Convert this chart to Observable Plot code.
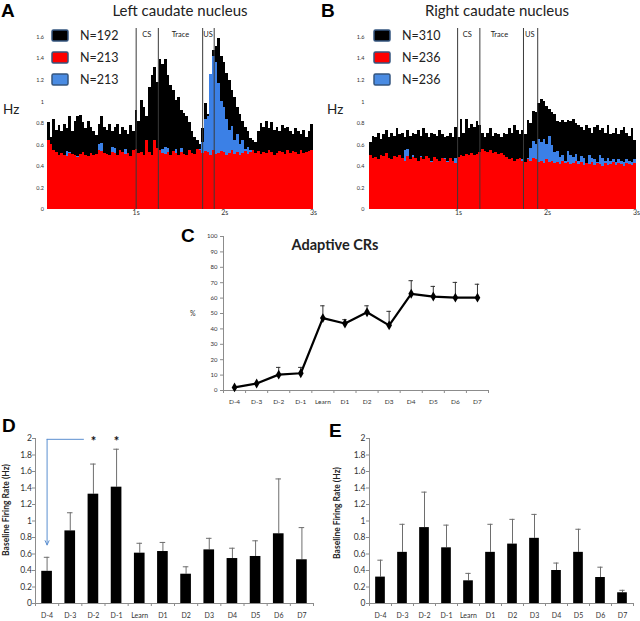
<!DOCTYPE html>
<html><head><meta charset="utf-8">
<script src="https://cdn.jsdelivr.net/npm/d3@7"></script>
<script src="https://cdn.jsdelivr.net/npm/@observablehq/plot@0.6"></script>
<style>
body{margin:0;background:#fff;}
#fig{position:relative;width:640px;height:621px;overflow:hidden;background:#fff;font-family:Lato,sans-serif;}
.pane{position:absolute;}
.pane svg{background:transparent;}
#overlay{position:absolute;left:0;top:0;pointer-events:none;}
</style></head>
<body><div id="fig"></div>
<script>
// ---------- DATA ----------
const binWidth = 0.03; // seconds per histogram bin, 100 bins over 3 s
const histXTicks = [1, 2, 3];
const histYTicks = [0, 0.2, 0.4, 0.6, 0.8, 1, 1.2, 1.4, 1.6];

const leftBlack = [
0.81,0.67,0.84,0.73,0.78,0.72,0.79,0.75,0.86,0.72,
0.82,0.86,0.87,0.81,0.75,0.82,0.76,0.72,0.69,0.79,
0.86,0.76,0.73,0.79,0.72,0.76,0.79,0.70,0.76,0.73,
0.70,0.78,0.72,0.92,0.82,1.01,0.95,0.86,1.13,1.24,
1.32,1.18,1.39,1.35,1.39,1.24,1.15,1.10,1.01,1.04,
0.92,0.89,0.86,0.81,0.72,0.67,0.64,0.60,0.75,0.98,
0.88,0.90,1.48,1.51,1.59,1.42,1.36,1.26,1.20,1.10,
1.04,0.95,0.88,0.82,0.76,0.72,0.66,0.64,0.62,0.72,
0.80,0.76,0.82,0.75,0.81,0.73,0.76,0.72,0.78,0.75,
0.76,0.72,0.70,0.75,0.72,0.70,0.73,0.67,0.72,0.79];
const leftBlue = [
0.60,0.58,0.50,0.48,0.49,0.47,0.50,0.54,0.53,0.48,
0.47,0.49,0.48,0.50,0.47,0.48,0.49,0.47,0.50,0.60,
0.61,0.48,0.47,0.50,0.58,0.57,0.49,0.48,0.47,0.56,
0.49,0.48,0.47,0.50,0.49,0.48,0.47,0.58,0.49,0.48,
0.47,0.49,0.48,0.56,0.58,0.57,0.49,0.48,0.56,0.50,
0.57,0.48,0.49,0.55,0.47,0.50,0.48,0.56,0.62,0.84,
0.86,1.25,1.42,1.36,1.17,1.00,0.95,0.84,0.73,0.77,
0.64,0.70,0.60,0.64,0.56,0.58,0.55,0.54,0.50,0.48,
0.47,0.49,0.48,0.50,0.47,0.49,0.48,0.47,0.50,0.48,
0.47,0.49,0.48,0.47,0.50,0.48,0.47,0.49,0.48,0.47];
const leftRed = [
0.64,0.60,0.55,0.53,0.50,0.52,0.50,0.49,0.52,0.51,
0.50,0.48,0.51,0.53,0.50,0.49,0.52,0.50,0.51,0.55,
0.54,0.52,0.51,0.50,0.53,0.52,0.50,0.55,0.53,0.51,
0.52,0.49,0.55,0.56,0.52,0.53,0.50,0.64,0.53,0.50,
0.64,0.57,0.55,0.52,0.51,0.53,0.50,0.54,0.52,0.50,
0.53,0.51,0.50,0.55,0.52,0.51,0.56,0.55,0.52,0.54,
0.53,0.50,0.55,0.51,0.52,0.54,0.53,0.50,0.52,0.55,
0.51,0.53,0.50,0.52,0.54,0.51,0.53,0.55,0.52,0.54,
0.51,0.53,0.52,0.55,0.53,0.50,0.52,0.54,0.53,0.51,
0.55,0.52,0.54,0.53,0.51,0.55,0.52,0.53,0.54,0.55];

const rightBlack = [
0.62,0.68,0.67,0.71,0.65,0.70,0.73,0.67,0.71,0.68,
0.75,0.70,0.71,0.67,0.73,0.68,0.71,0.70,0.73,0.68,
0.75,0.71,0.67,0.71,0.70,0.68,0.73,0.70,0.67,0.68,
0.71,0.67,0.76,0.67,0.84,0.71,0.84,0.75,0.79,0.76,
0.82,0.78,0.71,0.67,0.71,0.75,0.68,0.71,0.70,0.67,
0.71,0.70,0.75,0.71,0.78,0.73,0.70,0.73,0.70,0.83,
0.80,0.91,0.90,0.98,1.02,1.00,0.96,0.93,0.90,0.88,
0.82,0.81,0.83,0.81,0.83,0.82,0.84,0.80,0.78,0.76,
0.73,0.78,0.75,0.71,0.76,0.78,0.73,0.75,0.71,0.78,
0.70,0.71,0.75,0.70,0.73,0.76,0.71,0.68,0.75,0.64];
const rightBlue = [
0.44,0.46,0.45,0.44,0.46,0.45,0.44,0.46,0.45,0.44,
0.45,0.44,0.46,0.55,0.56,0.44,0.50,0.45,0.44,0.49,
0.45,0.44,0.46,0.45,0.43,0.44,0.45,0.46,0.47,0.45,
0.44,0.43,0.47,0.44,0.45,0.46,0.44,0.45,0.46,0.44,
0.45,0.44,0.46,0.45,0.44,0.46,0.45,0.44,0.46,0.45,
0.44,0.45,0.44,0.46,0.45,0.44,0.45,0.46,0.44,0.47,
0.57,0.63,0.60,0.65,0.62,0.65,0.60,0.68,0.59,0.53,
0.54,0.48,0.50,0.45,0.54,0.50,0.48,0.51,0.45,0.49,
0.47,0.42,0.50,0.47,0.46,0.44,0.50,0.47,0.45,0.47,
0.45,0.46,0.44,0.46,0.45,0.44,0.46,0.45,0.44,0.46];
const rightRed = [
0.50,0.47,0.48,0.46,0.50,0.49,0.52,0.47,0.46,0.49,
0.48,0.50,0.47,0.45,0.49,0.46,0.48,0.47,0.45,0.48,
0.46,0.49,0.47,0.44,0.48,0.46,0.45,0.47,0.46,0.44,
0.47,0.45,0.43,0.48,0.50,0.49,0.51,0.50,0.52,0.50,
0.51,0.53,0.56,0.54,0.53,0.55,0.52,0.53,0.51,0.52,
0.50,0.48,0.46,0.47,0.45,0.46,0.47,0.45,0.44,0.46,
0.45,0.47,0.46,0.44,0.45,0.43,0.46,0.44,0.45,0.43,
0.44,0.42,0.45,0.43,0.44,0.42,0.43,0.45,0.42,0.44,
0.41,0.43,0.42,0.44,0.41,0.43,0.42,0.40,0.43,0.41,
0.42,0.44,0.41,0.43,0.42,0.40,0.43,0.42,0.41,0.43];

const leftEvents = [1, 1.25, 1.75, 1.88];
const rightEvents = [0.99, 1.24, 1.73, 1.89];
const leftEventLabels = [{label:"CS", t:1.12}, {label:"Trace", t:1.5}, {label:"US", t:1.81}];
const rightEventLabels = [{label:"CS", t:1.1}, {label:"Trace", t:1.46}, {label:"US", t:1.8}];
const leftLegend = ["N=192", "N=213", "N=213"];
const rightLegend = ["N=310", "N=236", "N=236"];
const legendColors = ["#000000", "#ff0000", "#4a8be2"];

const cats = ["D-4","D-3","D-2","D-1","Learn","D1","D2","D3","D4","D5","D6","D7"];
const crMean = [2, 4.5, 10.3, 11.2, 47, 43.5, 50.8, 42.3, 62.8, 61, 60.3, 60.3];
const crSem  = [0, 0, 4.7, 3.8, 8, 2.5, 4.2, 9.1, 8.5, 6.6, 9.9, 8.7];
const crYTicks = [0,10,20,30,40,50,60,70,80,90,100];

const leftRate = [0.39,0.88,1.325,1.41,0.61,0.63,0.355,0.65,0.545,0.57,0.845,0.53];
const leftRateSem = [0.17,0.22,0.365,0.46,0.12,0.11,0.09,0.14,0.125,0.19,0.665,0.39];
const rightRate = [0.32,0.62,0.92,0.675,0.275,0.62,0.72,0.79,0.40,0.62,0.315,0.13];
const rightRateSem = [0.205,0.34,0.43,0.275,0.09,0.34,0.30,0.29,0.09,0.28,0.125,0.03];
const rateYTicks = [0,0.2,0.4,0.6,0.8,1,1.2,1.4,1.6,1.8,2];
const starCats = [2, 3]; // D-2, D-1
const arrowPath = [{i:1.57, y:1.99}, {i:0.0, y:1.99}, {i:0.0, y:0.71}];

// ---------- HELPERS ----------
const fig = document.getElementById("fig");
const fmt1 = d => String(+d.toFixed(1));
function place(node, left, top) {
  const div = document.createElement("div");
  div.className = "pane";
  div.style.left = left + "px"; div.style.top = top + "px";
  div.appendChild(node); fig.appendChild(div);
}
const toBins = arr => arr.map((v, i) => ({t0: i * binWidth, t1: (i + 1) * binWidth, v}));

function histPanel(black, blue, red, events, evLabels, ml, mr, yPad) {
  const top = 1.68;
  return Plot.plot({
    width: 320, height: 220, marginLeft: ml, marginRight: mr, marginTop: 28, marginBottom: 11,
    style: {fontFamily: "Lato, sans-serif", background: "transparent", overflow: "visible"},
    x: {domain: [0, 3]},
    y: {domain: [0, top]},
    marks: [
      Plot.rectY(toBins(black), {x1: "t0", x2: "t1", y1: 0, y2: "v", fill: "#000", shapeRendering: "crispEdges"}),
      Plot.rectY(toBins(blue), {x1: "t0", x2: "t1", y1: 0, y2: "v", fill: "#3b80e6", shapeRendering: "crispEdges"}),
      Plot.rectY(toBins(red), {x1: "t0", x2: "t1", y1: 0, y2: "v", fill: "#ff0000", shapeRendering: "crispEdges"}),
      Plot.ruleX(events, {y1: 0, y2: top, stroke: "#3a3a3a", strokeWidth: 1}),
      Plot.text(evLabels, {x: "t", y: 1.62, text: "label", fontSize: 7.5, fill: "#222"}),
      Plot.axisX({ticks: histXTicks, tickFormat: d => d + "s", tickSize: 0, tickPadding: 1, fontSize: 7, fill: "#333", label: null}),
      Plot.axisY({ticks: histYTicks, tickFormat: fmt1, tickSize: 0, tickPadding: yPad, fontSize: 5.5, fill: "#333", label: null})
    ]
  });
}

function catAxes(yTicks, yFont, yTickPad, xFont, xPad) {
  const bounds = d3.range(13).map(k => k - 0.5);
  return [
    Plot.ruleX([-0.5], {stroke: "#8c8c8c"}),
    Plot.ruleY([0], {stroke: "#8c8c8c"}),
    Plot.axisY({ticks: yTicks, tickFormat: fmt1, tickSize: 3, tickPadding: yTickPad, fontSize: yFont, fill: "#333", stroke: "#8c8c8c", label: null}),
    Plot.axisX({ticks: bounds, tickFormat: () => "", tickSize: 3, stroke: "#8c8c8c", label: null}),
    Plot.axisX({ticks: d3.range(cats.length), tickFormat: i => cats[i], tickSize: 0, tickPadding: xPad, fontSize: xFont, fill: "#333", label: null})
  ];
}

function barPanel(mean, sem, ml, mr, halfW, yPad, extra) {
  const rows = cats.map((c, i) => ({i, c, v: mean[i], hi: mean[i] + sem[i]}));
  return Plot.plot({
    width: 320, height: 201, marginLeft: ml, marginRight: mr, marginTop: 18, marginBottom: 18,
    style: {fontFamily: "Lato, sans-serif", background: "transparent", overflow: "visible"},
    x: {domain: [-0.5, 11.5]},
    y: {domain: [0, 2]},
    marks: [
      ...catAxes(rateYTicks, 8.5, yPad, 7, 10),
      Plot.ruleX(rows, {x: "i", y1: "v", y2: "hi", stroke: "#6e6e6e", strokeWidth: 1}),
      Plot.ruleY(rows, {y: "hi", x1: d => d.i - 0.12, x2: d => d.i + 0.12, stroke: "#6e6e6e", strokeWidth: 1}),
      Plot.rectY(rows, {x1: d => d.i - halfW, x2: d => d.i + halfW, y1: 0, y2: "v", fill: "#000"}),
      ...(extra || [])
    ]
  });
}

// ---------- PANELS ----------
place(histPanel(leftBlack, leftBlue, leftRed, leftEvents, leftEventLabels, 47, 7, 3.5), 0, 0);
place(histPanel(rightBlack, rightBlue, rightRed, rightEvents, rightEventLabels, 49, 4, 5), 320, 0);

const crRows = cats.map((c, i) => ({i, v: crMean[i], hi: crMean[i] + crSem[i]}));
place(Plot.plot({
  width: 320, height: 190, marginLeft: 43, marginRight: 12, marginTop: 16, marginBottom: 20,
  style: {fontFamily: "Lato, sans-serif", background: "transparent", overflow: "visible"},
  x: {domain: [-0.5, 11.5]},
  y: {domain: [0, 100]},
  marks: [
    ...catAxes(crYTicks, 6, 3, 6.5, 9),
    Plot.ruleX(crRows.filter(d => d.hi > d.v), {x: "i", y1: "v", y2: "hi", stroke: "#333", strokeWidth: 1}),
    Plot.ruleY(crRows.filter(d => d.hi > d.v), {y: "hi", x1: d => d.i - 0.1, x2: d => d.i + 0.1, stroke: "#333", strokeWidth: 1}),
    Plot.line(crRows, {x: "i", y: "v", stroke: "#000", strokeWidth: 2.2}),
    Plot.dot(crRows, {x: "i", y: "v", symbol: "diamond", r: 3, fill: "#000", stroke: "none"})
  ]
}), 180, 220);

const starRows = starCats.map(i => ({i, y: 1.99, s: "*"}));
place(barPanel(leftRate, leftRateSem, 35, 7, 0.23, 0.5, [
  Plot.line(arrowPath.slice(0, 2), {x: "i", y: "y", stroke: "#5b8fd0", strokeWidth: 1}),
  Plot.arrow([arrowPath[1]], {x1: "i", y1: "y", x2: () => arrowPath[2].i, y2: () => arrowPath[2].y, stroke: "#5b8fd0", strokeWidth: 1, headLength: 7, headAngle: 50}),
  Plot.text(starRows, {x: "i", y: "y", text: "s", fontSize: 13, fontWeight: "bold", dy: 3, fill: "#111"})
]), 0, 420);
place(barPanel(rightRate, rightRateSem, 49, 7, 0.22, 1), 320, 420);

// ---------- TEXT OVERLAY ----------
const ov = d3.create("svg").attr("id", "overlay").attr("width", 640).attr("height", 621)
  .style("font-family", "Lato, sans-serif");
function txt(s, x, y, size, opts = {}) {
  const t = ov.append("text").attr("x", x).attr("y", y).attr("font-size", size).text(s)
    .attr("fill", opts.fill || "#111").attr("text-anchor", opts.anchor || "start");
  if (opts.bold) t.attr("font-weight", "bold");
  if (opts.family) t.attr("font-family", opts.family);
  if (opts.rotate) t.attr("transform", `rotate(-90 ${x} ${y})`).attr("dominant-baseline", "central");
  return t;
}
const arial = "'Liberation Sans', Arial, sans-serif";
txt("A", 1, 17, 19, {bold: true, family: arial, fill: "#000"});
txt("B", 321, 17, 19, {bold: true, family: arial, fill: "#000"});
txt("C", 181, 242, 19, {bold: true, family: arial, fill: "#000"});
txt("D", 2, 432, 19, {bold: true, family: arial, fill: "#000"});
txt("E", 329, 437, 19, {bold: true, family: arial, fill: "#000"});
txt("Left caudate nucleus", 180, 16, 15, {anchor: "middle", fill: "#222"});
txt("Right caudate nucleus", 497, 16, 15, {anchor: "middle", fill: "#222"});
txt("Hz", 3, 114, 13.5, {fill: "#222"});
txt("Hz", 327, 114, 13.5, {fill: "#222"});
txt("Adaptive CRs", 335, 250, 14.5, {anchor: "middle", bold: true, fill: "#222"});
txt("%", 190, 316, 7, {fill: "#333"});
txt("Baseline Firing Rate (Hz)", 6, 510, 8.5, {anchor: "middle", bold: true, rotate: true, fill: "#222"});
txt("Baseline Firing Rate (Hz)", 337, 513, 8.5, {anchor: "middle", bold: true, rotate: true, fill: "#222"});

function legend(x0, labels) {
  const ys = [30, 52, 74];
  labels.forEach((lab, k) => {
    ov.append("rect").attr("x", x0).attr("y", ys[k]).attr("width", 16).attr("height", 11)
      .attr("rx", 1.5).attr("fill", legendColors[k]).attr("stroke", "#34557f").attr("stroke-width", 1.5);
    txt(lab, x0 + 28, ys[k] + 10, 12.5, {fill: "#222"});
  });
}
legend(52, leftLegend);
legend(374, rightLegend);
fig.appendChild(ov.node());
</script></body></html>
